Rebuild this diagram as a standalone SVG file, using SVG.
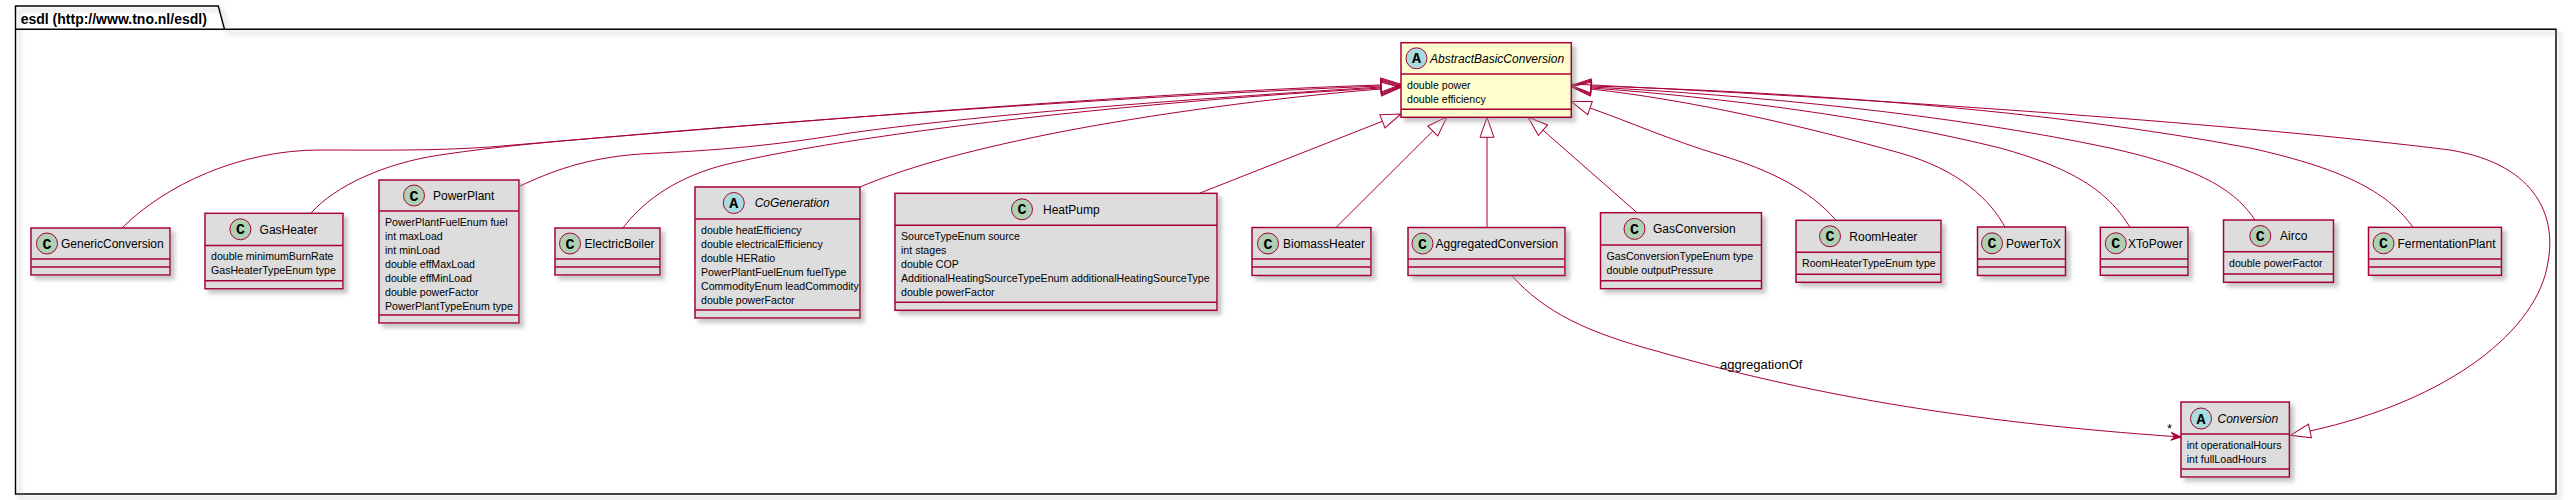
<svg xmlns="http://www.w3.org/2000/svg" width="2571" height="500" viewBox="0 0 2571 500">
<style>
.cls{fill:#DDDDDD;stroke:#A80036;stroke-width:1.5}
.abs{fill:#FEFECE;stroke:#A80036;stroke-width:1.5}
.sep{stroke:#A80036;stroke-width:1.5}
.nm{font-family:"Liberation Sans",Arial,sans-serif;font-size:12px;fill:#000}
.it{font-style:italic}
.at{font-family:"Liberation Sans",Arial,sans-serif;font-size:10.6px;fill:#000}
.cc{fill:#ADD1B2;stroke:#A80036;stroke-width:1}
.ca{fill:#A9DCDF;stroke:#A80036;stroke-width:1}
.lt{font-family:"Liberation Mono","Courier New",monospace;font-weight:bold;font-size:15px;text-anchor:middle;fill:#000}
.edge{fill:none;stroke:#A80036;stroke-width:1}
.lbl{font-family:"Liberation Sans",Arial,sans-serif;font-size:13px;fill:#000}
</style>
<defs>
<filter id="sh" x="-10%" y="-10%" width="130%" height="140%">
<feGaussianBlur in="SourceAlpha" stdDeviation="2" result="b"/>
<feOffset in="b" dx="4" dy="4" result="o"/>
<feColorMatrix in="o" type="matrix" values="0 0 0 0 0.3 0 0 0 0 0.3 0 0 0 0 0.3 0 0 0 0.55 0" result="s"/>
<feMerge><feMergeNode in="s"/><feMergeNode in="SourceGraphic"/></feMerge>
</filter>
<marker id="ext" markerUnits="userSpaceOnUse" markerWidth="22" markerHeight="16" refX="0" refY="0" orient="auto" overflow="visible">
<path d="M0,-7 L20,0 L0,7 Z" fill="none" stroke="#A80036" stroke-width="1"/>
</marker>
<marker id="arr" markerUnits="userSpaceOnUse" markerWidth="12" markerHeight="10" refX="0" refY="0" orient="auto" overflow="visible">
<path d="M0,0 L-10,-4 L-6,0 L-10,4 Z" fill="#A80036" stroke="#A80036" stroke-width="1"/>
</marker>
</defs>
<rect width="2571" height="500" fill="#FFFFFF"/>
<g id="package">
<path d="M15.5,29.3 L15.5,6 L218.3,6 L224.5,29.3 L2556,29.3 L2556,494 L15.5,494 Z" fill="none" stroke="#000" stroke-width="1.5" filter="url(#sh)"/>
<line x1="15.5" y1="29.3" x2="224.5" y2="29.3" stroke="#000" stroke-width="1.5"/>
<text x="20.7" y="23.5" font-family="'Liberation Sans',Arial,sans-serif" font-size="14" font-weight="bold">esdl (http://www.tno.nl/esdl)</text>
</g>
<g id="connectors">
<path class="edge" marker-end="url(#ext)" d="M122,228 C165,185 240,150 320,150 C380,150 430,151 490,147 C750,125 1150,92 1381,85"/>
<path class="edge" marker-end="url(#ext)" d="M311,213 C335,186 385,163 440,155 C500,146 560,141 620,136 C900,112 1200,93 1381,86"/>
<path class="edge" marker-end="url(#ext)" d="M520,186 C550,172 585,158 640,154 C700,151 760,148 850,133 C1000,112 1250,95 1381,87"/>
<path class="edge" marker-end="url(#ext)" d="M623,228 C640,205 670,180 720,166 C800,146 950,125 1100,110 C1220,98 1300,93 1381,88"/>
<path class="edge" marker-end="url(#ext)" d="M860,187 C900,170 960,152 1050,134 C1150,114 1280,97 1381,89"/>
<path class="edge" marker-end="url(#ext)" d="M1200,193 L1382.4,121.3"/>
<path class="edge" marker-end="url(#ext)" d="M1336,227.5 L1432.8,131"/>
<path class="edge" marker-end="url(#ext)" d="M1487,227.5 L1487,137.3"/>
<path class="edge" marker-end="url(#ext)" d="M1637,212.7 L1543,130.2"/>
<path class="edge" marker-end="url(#ext)" d="M1836,220.3 C1810,190 1770,170 1720,155 C1670,140 1630,122 1590,108"/>
<path class="edge" marker-end="url(#ext)" d="M2005,227 C1990,200 1960,170 1900,153 C1800,125 1690,100 1591,89"/>
<path class="edge" marker-end="url(#ext)" d="M2130,227.3 C2110,195 2080,170 2000,148 C1880,118 1720,97 1591,88"/>
<path class="edge" marker-end="url(#ext)" d="M2255,220 C2235,190 2200,168 2110,148 C1950,114 1750,95 1591,87"/>
<path class="edge" marker-end="url(#ext)" d="M2413,227.3 C2390,195 2350,170 2250,148 C2050,110 1800,92 1591,86"/>
<path class="edge" marker-end="url(#ext)" d="M1571.3,84 C1900,100 2250,125 2450,150 C2540,165 2556,220 2548,262 C2538,330 2450,400 2310,431"/>
<path class="edge" marker-end="url(#arr)" d="M1512,276 C1545,312 1585,332 1660,352 C1800,392 1960,422 2181,437"/>
<text class="lbl" x="1720" y="368.5">aggregationOf</text>
<text class="lbl" x="2167" y="433">*</text>
</g>
<g id="GenericConversion" transform="translate(31,228)">
<rect class="cls" width="139" height="47" filter="url(#sh)"/>
<line class="sep" x1="0" y1="31" x2="139" y2="31"/><line class="sep" x1="0" y1="39" x2="139" y2="39"/>
<circle class="cc" cx="16" cy="15.5" r="10.5"/><text class="lt" x="16" y="20.5">C</text>
<text class="nm" x="30" y="19.8">GenericConversion</text>
</g>
<g id="GasHeater" transform="translate(205,213.3)">
<rect class="cls" width="138" height="75.5" filter="url(#sh)"/>
<line class="sep" x1="0" y1="32.2" x2="138" y2="32.2"/><line class="sep" x1="0" y1="67.5" x2="138" y2="67.5"/>
<circle class="cc" cx="35.4" cy="16" r="10.5"/><text class="lt" x="35.4" y="21">C</text>
<text class="nm" x="54.6" y="20.3">GasHeater</text>
<text class="at" x="6" y="47.2">double minimumBurnRate</text>
<text class="at" x="6" y="61.2">GasHeaterTypeEnum type</text>
</g>
<g id="PowerPlant" transform="translate(379,180)">
<rect class="cls" width="140" height="143" filter="url(#sh)"/>
<line class="sep" x1="0" y1="31" x2="140" y2="31"/><line class="sep" x1="0" y1="135" x2="140" y2="135"/>
<circle class="cc" cx="35" cy="15.5" r="10.5"/><text class="lt" x="35" y="20.5">C</text>
<text class="nm" x="54" y="19.8">PowerPlant</text>
<text class="at" x="6" y="46">PowerPlantFuelEnum fuel</text>
<text class="at" x="6" y="60">int maxLoad</text>
<text class="at" x="6" y="74">int minLoad</text>
<text class="at" x="6" y="88">double effMaxLoad</text>
<text class="at" x="6" y="102">double effMinLoad</text>
<text class="at" x="6" y="116">double powerFactor</text>
<text class="at" x="6" y="130">PowerPlantTypeEnum type</text>
</g>
<g id="ElectricBoiler" transform="translate(555,228)">
<rect class="cls" width="105" height="47" filter="url(#sh)"/>
<line class="sep" x1="0" y1="31" x2="105" y2="31"/><line class="sep" x1="0" y1="39" x2="105" y2="39"/>
<circle class="cc" cx="15" cy="15.5" r="10.5"/><text class="lt" x="15" y="20.5">C</text>
<text class="nm" x="29.6" y="19.8">ElectricBoiler</text>
</g>
<g id="CoGeneration" transform="translate(695,187)">
<rect class="cls" width="165" height="131" filter="url(#sh)"/>
<line class="sep" x1="0" y1="32" x2="165" y2="32"/><line class="sep" x1="0" y1="123" x2="165" y2="123"/>
<circle class="ca" cx="38.8" cy="16" r="10.5"/><text class="lt" x="38.8" y="21">A</text>
<text class="nm it" x="59.7" y="20.3">CoGeneration</text>
<text class="at" x="6" y="47">double heatEfficiency</text>
<text class="at" x="6" y="61">double electricalEfficiency</text>
<text class="at" x="6" y="75">double HERatio</text>
<text class="at" x="6" y="89">PowerPlantFuelEnum fuelType</text>
<text class="at" x="6" y="103">CommodityEnum leadCommodity</text>
<text class="at" x="6" y="117">double powerFactor</text>
</g>
<g id="HeatPump" transform="translate(895,193.3)">
<rect class="cls" width="322" height="117" filter="url(#sh)"/>
<line class="sep" x1="0" y1="32" x2="322" y2="32"/><line class="sep" x1="0" y1="109" x2="322" y2="109"/>
<circle class="cc" cx="127" cy="16" r="10.5"/><text class="lt" x="127" y="21">C</text>
<text class="nm" x="148" y="20.3">HeatPump</text>
<text class="at" x="6" y="47">SourceTypeEnum source</text>
<text class="at" x="6" y="61">int stages</text>
<text class="at" x="6" y="75">double COP</text>
<text class="at" x="6" y="89">AdditionalHeatingSourceTypeEnum additionalHeatingSourceType</text>
<text class="at" x="6" y="103">double powerFactor</text>
</g>
<g id="BiomassHeater" transform="translate(1252,227.5)">
<rect class="cls" width="119" height="48" filter="url(#sh)"/>
<line class="sep" x1="0" y1="31.5" x2="119" y2="31.5"/><line class="sep" x1="0" y1="39.5" x2="119" y2="39.5"/>
<circle class="cc" cx="16" cy="16" r="10.5"/><text class="lt" x="16" y="21">C</text>
<text class="nm" x="31" y="20.3">BiomassHeater</text>
</g>
<g id="AggregatedConversion" transform="translate(1408,227.5)">
<rect class="cls" width="157" height="48" filter="url(#sh)"/>
<line class="sep" x1="0" y1="31.5" x2="157" y2="31.5"/><line class="sep" x1="0" y1="39.5" x2="157" y2="39.5"/>
<circle class="cc" cx="14.5" cy="16" r="10.5"/><text class="lt" x="14.5" y="21">C</text>
<text class="nm" x="27.5" y="20.3">AggregatedConversion</text>
</g>
<g id="GasConversion" transform="translate(1600.5,212.7)">
<rect class="cls" width="161" height="76" filter="url(#sh)"/>
<line class="sep" x1="0" y1="32.3" x2="161" y2="32.3"/><line class="sep" x1="0" y1="68" x2="161" y2="68"/>
<circle class="cc" cx="34" cy="16.2" r="10.5"/><text class="lt" x="34" y="21.2">C</text>
<text class="nm" x="52.5" y="20.5">GasConversion</text>
<text class="at" x="6" y="47.3">GasConversionTypeEnum type</text>
<text class="at" x="6" y="61.3">double outputPressure</text>
</g>
<g id="RoomHeater" transform="translate(1796,220.3)">
<rect class="cls" width="145" height="62" filter="url(#sh)"/>
<line class="sep" x1="0" y1="32" x2="145" y2="32"/><line class="sep" x1="0" y1="54" x2="145" y2="54"/>
<circle class="cc" cx="34" cy="16" r="10.5"/><text class="lt" x="34" y="21">C</text>
<text class="nm" x="53.3" y="20.3">RoomHeater</text>
<text class="at" x="6" y="47">RoomHeaterTypeEnum type</text>
</g>
<g id="PowerToX" transform="translate(1977.5,227)">
<rect class="cls" width="88" height="48.5" filter="url(#sh)"/>
<line class="sep" x1="0" y1="32" x2="88" y2="32"/><line class="sep" x1="0" y1="40" x2="88" y2="40"/>
<circle class="cc" cx="14.5" cy="16.3" r="10.5"/><text class="lt" x="14.5" y="21.3">C</text>
<text class="nm" x="28.5" y="20.6">PowerToX</text>
</g>
<g id="XToPower" transform="translate(2100.3,227.3)">
<rect class="cls" width="87.7" height="48" filter="url(#sh)"/>
<line class="sep" x1="0" y1="31.7" x2="87.7" y2="31.7"/><line class="sep" x1="0" y1="39.7" x2="87.7" y2="39.7"/>
<circle class="cc" cx="15.5" cy="16" r="10.5"/><text class="lt" x="15.5" y="21">C</text>
<text class="nm" x="27.7" y="20.3">XToPower</text>
</g>
<g id="Airco" transform="translate(2223.5,220)">
<rect class="cls" width="110" height="62.3" filter="url(#sh)"/>
<line class="sep" x1="0" y1="31.7" x2="110" y2="31.7"/><line class="sep" x1="0" y1="54" x2="110" y2="54"/>
<circle class="cc" cx="36.8" cy="16" r="10.5"/><text class="lt" x="36.8" y="21">C</text>
<text class="nm" x="56.5" y="20.3">Airco</text>
<text class="at" x="5.5" y="46.7">double powerFactor</text>
</g>
<g id="FermentationPlant" transform="translate(2368.5,227.3)">
<rect class="cls" width="133" height="48" filter="url(#sh)"/>
<line class="sep" x1="0" y1="31.7" x2="133" y2="31.7"/><line class="sep" x1="0" y1="39.7" x2="133" y2="39.7"/>
<circle class="cc" cx="15" cy="16" r="10.5"/><text class="lt" x="15" y="21">C</text>
<text class="nm" x="29" y="20.3">FermentationPlant</text>
</g>
<g id="AbstractBasicConversion" transform="translate(1401,42.7)">
<rect class="abs" width="170.3" height="74.6" filter="url(#sh)"/>
<line class="sep" x1="0" y1="31.3" x2="170.3" y2="31.3"/><line class="sep" x1="0" y1="66.6" x2="170.3" y2="66.6"/>
<circle class="ca" cx="15.5" cy="15.6" r="10.5"/><text class="lt" x="15.5" y="20.6">A</text>
<text class="nm it" x="29" y="20">AbstractBasicConversion</text>
<text class="at" x="6" y="46.3">double power</text>
<text class="at" x="6" y="60.3">double efficiency</text>
</g>
<g id="Conversion" transform="translate(2181,402)">
<rect class="cls" width="108.4" height="75" filter="url(#sh)"/>
<line class="sep" x1="0" y1="32" x2="108.4" y2="32"/><line class="sep" x1="0" y1="67" x2="108.4" y2="67"/>
<circle class="ca" cx="20" cy="16.5" r="10.5"/><text class="lt" x="20" y="21.5">A</text>
<text class="nm it" x="36.5" y="20.8">Conversion</text>
<text class="at" x="5.7" y="47">int operationalHours</text>
<text class="at" x="5.7" y="61">int fullLoadHours</text>
</g>
</svg>
